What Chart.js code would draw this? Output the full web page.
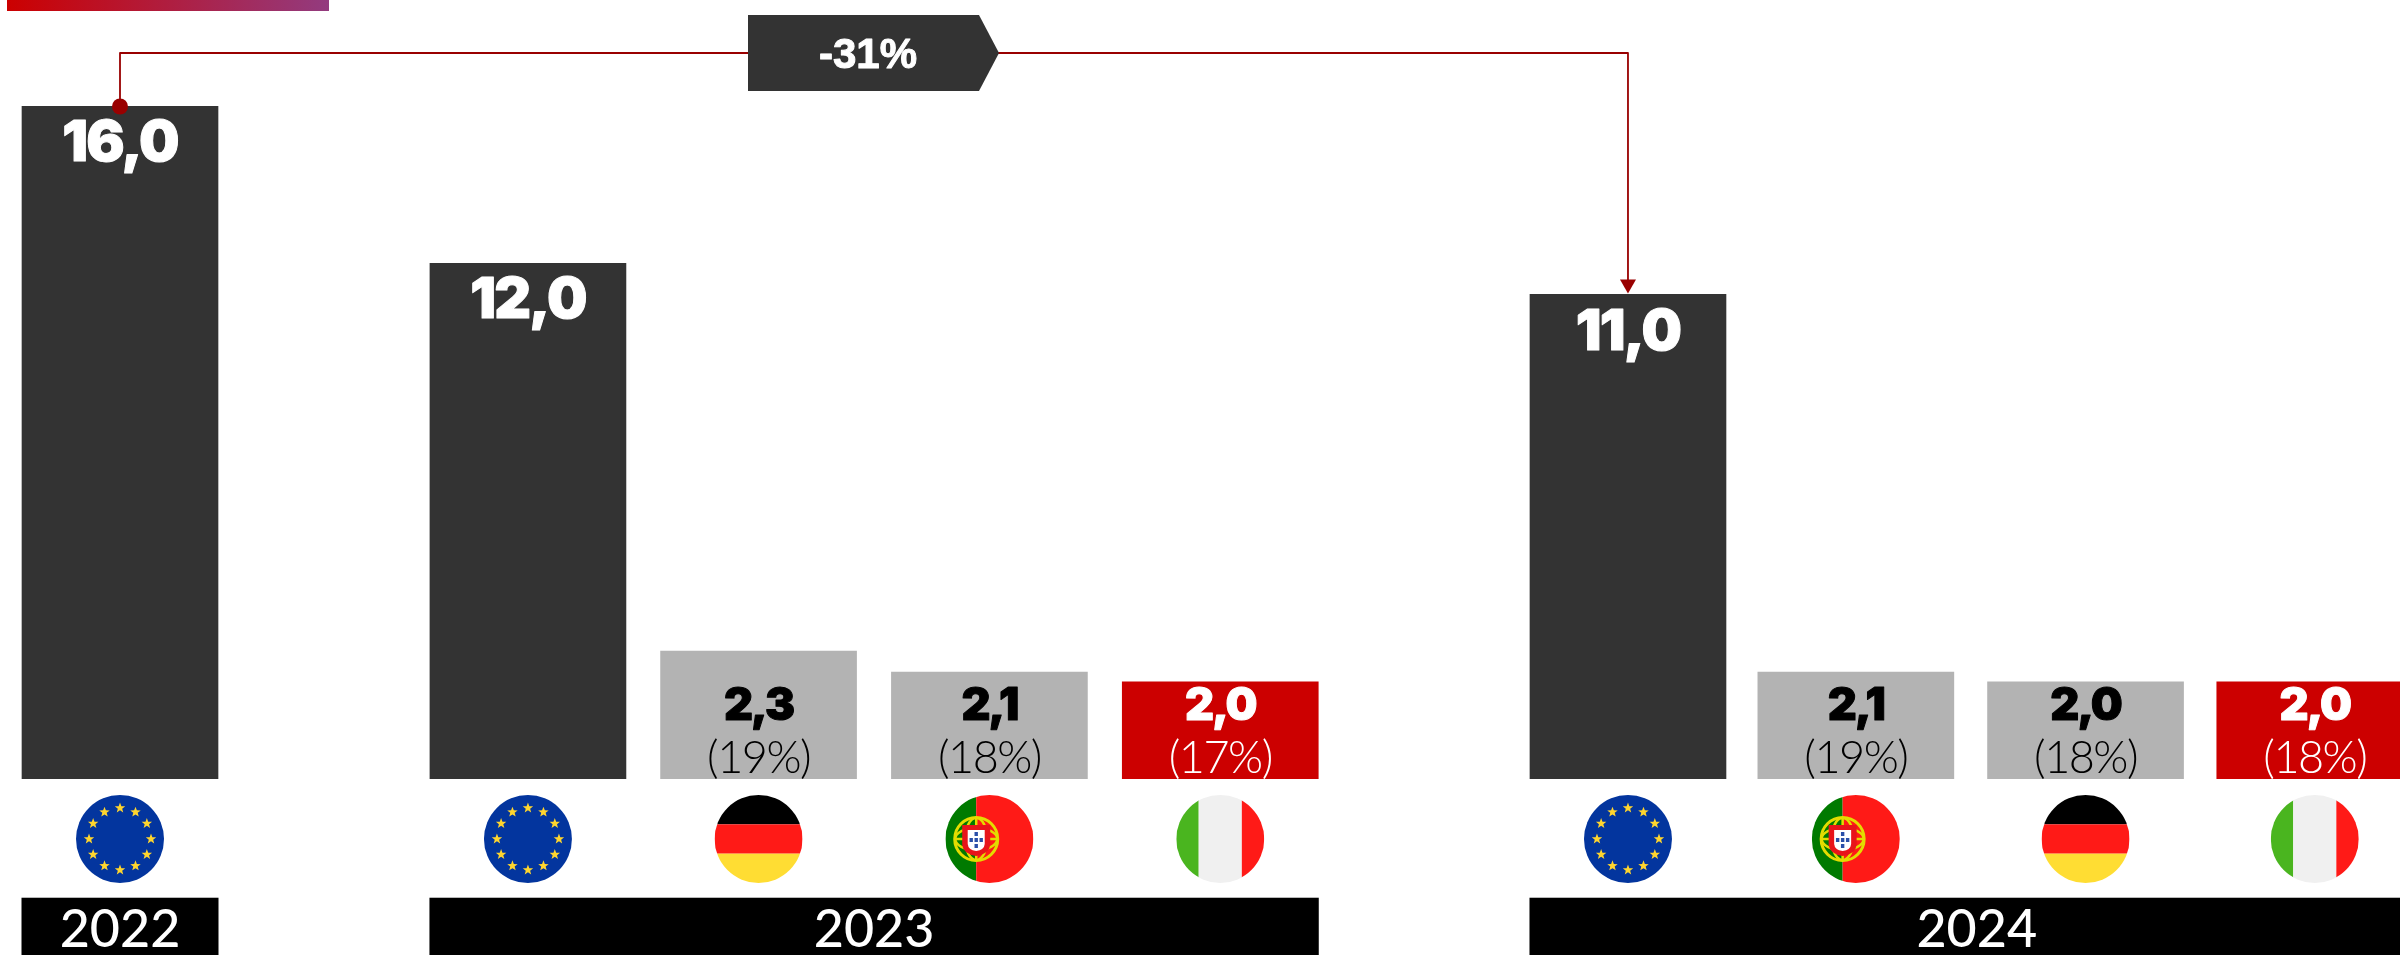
<!DOCTYPE html>
<html>
<head>
<meta charset="utf-8">
<style>html,body{margin:0;padding:0;background:#fff}#w{width:2400px;height:955px;position:relative;overflow:hidden}canvas{display:block}</style>
<script src="https://cdn.jsdelivr.net/npm/chart.js@4/dist/chart.umd.min.js"></script>
</head>
<body>
<div id="w"><canvas id="c" width="2400" height="955"></canvas></div>
<script>
// Data
const categories = ['EU 2022','EU 2023','DE 2023','PT 2023','IT 2023','EU 2024','PT 2024','DE 2024','IT 2024'];
const flags      = ['EU','EU','DE','PT','IT','EU','PT','DE','IT'];
const valueLabels = ['16,0','12,0','2,3','2,1','2,0','11,0','2,1','2,0','2,0'];
const shareLabels = ['','','(19%)','(18%)','(17%)','','(19%)','(18%)','(18%)'];
// The reference does not draw its bars strictly to scale: these are the drawn bar heights
// expressed on the 0-16 axis, while the printed figures above stay as the source states them.
const drawnHeights = [16, 12.26, 3.04, 2.54, 2.31, 11.52, 2.54, 2.31, 2.31];
const kinds = ['eu','eu','other','other','focus','eu','other','other','focus'];
const yearLabels = ['2022','2023','2024'];
const yearSpans = [[0,0],[1,4],[5,8]];
const changeLabel = '-31%';

// Layout
const slots = [0, 1.776, 2.78, 3.785, 4.79, 6.565, 7.557, 8.557, 9.555];
const UNIT = 229.7, X0 = 120, BAR = 196;
const colours = {eu:'#333333', other:'#B3B3B3', focus:'#CC0000'};
const inkValue = {eu:'#FFFFFF', other:'#000000', focus:'#FFFFFF'};
const RED = '#990000';

function clipCircle(ctx,x,y,r,fn){ctx.save();ctx.beginPath();ctx.arc(x,y,r,0,Math.PI*2);ctx.clip();fn();ctx.restore();}
function star(ctx,x,y,r){ctx.beginPath();for(let i=0;i<10;i++){const a=-Math.PI/2+i*Math.PI/5,q=i%2?r*0.42:r;ctx.lineTo(x+q*Math.cos(a),y+q*Math.sin(a));}ctx.closePath();ctx.fill();}
function drawFlag(ctx,code,x,y,r){
  const L=x-r,T=y-r,D=2*r;
  clipCircle(ctx,x,y,r,()=>{
    if(code==='EU'){
      ctx.fillStyle='#03359E';ctx.fillRect(L,T,D,D);
      ctx.fillStyle='#FFD52E';
      for(let i=0;i<12;i++){const a=i*Math.PI/6;star(ctx,x+31*Math.sin(a),y-31*Math.cos(a),5.5);}
    } else if(code==='DE'){
      ctx.fillStyle='#000';ctx.fillRect(L,T,D,D/3);
      ctx.fillStyle='#FF1A17';ctx.fillRect(L,T+D/3,D,D/3);
      ctx.fillStyle='#FFDD33';ctx.fillRect(L,T+2*D/3,D,D/3);
    } else if(code==='IT'){
      ctx.fillStyle='#4AB51F';ctx.fillRect(L,T,D*0.255,D);
      ctx.fillStyle='#F0F0F0';ctx.fillRect(L+D*0.255,T,D*0.49,D);
      ctx.fillStyle='#FF1A17';ctx.fillRect(L+D*0.745,T,D*0.255,D);
    } else if(code==='PT'){
      const s=L+D*0.35;
      ctx.fillStyle='#007A00';ctx.fillRect(L,T,D*0.35,D);
      ctx.fillStyle='#FF1A17';ctx.fillRect(s,T,D*0.65,D);
      ctx.strokeStyle='#E3DC00';ctx.lineWidth=3;
      ctx.beginPath();ctx.arc(s,y,21.5,0,Math.PI*2);ctx.stroke();
      ctx.lineWidth=2.5;ctx.beginPath();ctx.ellipse(s,y,21,11,0,0,Math.PI*2);ctx.stroke();
      ctx.beginPath();ctx.ellipse(s,y,11,21,0,0,Math.PI*2);ctx.stroke();
      ctx.beginPath();ctx.moveTo(s-21,y);ctx.lineTo(s+21,y);ctx.moveTo(s,y-21);ctx.lineTo(s,y+21);ctx.stroke();
      ctx.fillStyle='#E8141A';ctx.beginPath();ctx.moveTo(s-14,y-14);ctx.lineTo(s+14,y-14);ctx.lineTo(s+14,y+6);ctx.quadraticCurveTo(s+13,y+15,s,y+17);ctx.quadraticCurveTo(s-13,y+15,s-14,y+6);ctx.closePath();ctx.fill();
      ctx.fillStyle='#FFFFFF';ctx.beginPath();ctx.moveTo(s-8.5,y-9);ctx.lineTo(s+8.5,y-9);ctx.lineTo(s+8.5,y+5);ctx.quadraticCurveTo(s+8,y+11,s,y+12);ctx.quadraticCurveTo(s-8,y+11,s-8.5,y+5);ctx.closePath();ctx.fill();
      ctx.fillStyle='#2A4FA8';
      [[0,-5],[-5,1],[0,1],[5,1],[0,7]].forEach(p=>ctx.fillRect(s+p[0]-1.7,y+p[1]-2,3.4,4));
    }
  });
}

const overlay = {
  id:'overlay',
  afterDatasetsDraw(chart){
    const ctx=chart.ctx, meta=chart.getDatasetMeta(0), px=i=>meta.data[i].x;
    ctx.save();
    // Top gradient tab
    const g=ctx.createLinearGradient(7,0,329,0);g.addColorStop(0,'#CC0000');g.addColorStop(1,'#933B7F');
    ctx.fillStyle=g;ctx.fillRect(7,0,322,11);

    // Bar labels
    ctx.textAlign='center';ctx.textBaseline='middle';ctx.lineJoin='round';
    categories.forEach((c,i)=>{
      const bar=meta.data[i], kind=kinds[i];
      ctx.fillStyle=inkValue[kind];ctx.strokeStyle=inkValue[kind];ctx.lineWidth=1;
      if(kind==='eu'){
        ctx.font='900 57px Inter, Lato, sans-serif';
        ctx.letterSpacing='-1.8px';
        ctx.fillText(valueLabels[i],bar.x,bar.y+38);
        ctx.strokeText(valueLabels[i],bar.x,bar.y+38);
      }else{
        ctx.font='900 45px Inter, Lato, sans-serif';
        ctx.letterSpacing='-2px';
        ctx.fillText(valueLabels[i],bar.x,chart.chartArea.bottom-73);
        ctx.strokeText(valueLabels[i],bar.x,chart.chartArea.bottom-73);
        ctx.letterSpacing='-1.5px';
        ctx.font='300 45px Lato, sans-serif';
        ctx.fillText(shareLabels[i],bar.x,chart.chartArea.bottom-21);
      }
      ctx.letterSpacing='0px';
      drawFlag(ctx,flags[i],bar.x,839,44);
    });

    // Year bands
    yearLabels.forEach((y,i)=>{
      const a=yearSpans[i][0], b=yearSpans[i][1];
      const l=px(a)-BAR/2-0.5, r=Math.min(px(b)+BAR/2+0.5,2400);
      ctx.fillStyle='#B8B8B8';ctx.fillRect(l,897,r-l,1);
      ctx.fillStyle='#000';ctx.fillRect(l,898,r-l,57);
      ctx.fillStyle='#FFF';ctx.font='500 52px Lato, sans-serif';
      ctx.fillText(y,(l+r)/2+(i===2?12:0),930);
    });

    // Connector
    const x1=px(0), y1=meta.data[0].y, x2=px(5), y2=meta.data[5].y, ly=53;
    ctx.strokeStyle=RED;ctx.fillStyle=RED;
    ctx.lineWidth=1.8;
    ctx.beginPath();ctx.moveTo(x1,y1);ctx.lineTo(x1,ly);ctx.lineTo(x2,ly);ctx.lineTo(x2,y2-12);ctx.stroke();
    ctx.beginPath();ctx.arc(x1,y1+0.5,8,0,Math.PI*2);ctx.fill();
    ctx.beginPath();ctx.moveTo(x2-8,y2-15);ctx.lineTo(x2+8,y2-15);ctx.lineTo(x2,y2-1);ctx.closePath();ctx.fill();

    // Change badge
    ctx.fillStyle='#333333';
    ctx.beginPath();ctx.moveTo(748,15);ctx.lineTo(979,15);ctx.lineTo(999,53);ctx.lineTo(979,91);ctx.lineTo(748,91);ctx.closePath();ctx.fill();
    ctx.fillStyle='#FFF';ctx.strokeStyle='#FFF';ctx.lineWidth=1;ctx.font='700 42px "Liberation Sans", Arial, sans-serif';
    ctx.fillText(changeLabel,868,56);ctx.strokeText(changeLabel,868,56);
    ctx.restore();
  }
};

new Chart(document.getElementById('c'),{
  type:'bar',
  data:{datasets:[{
    label:'Bars',
    data:categories.map((c,i)=>({x:slots[i],y:drawnHeights[i]})),
    backgroundColor:kinds.map(k=>colours[k]),
    barThickness:BAR,
    borderWidth:0
  }]},
  options:{
    responsive:false,animation:false,
    layout:{padding:{top:106,bottom:176,left:0,right:0}},
    plugins:{legend:{display:false},tooltip:{enabled:false}},
    scales:{
      x:{type:'linear',offset:false,display:false,min:-X0/UNIT,max:(2400-X0)/UNIT,grid:{display:false}},
      y:{display:false,min:0,max:16,grid:{display:false}}
    }
  },
  plugins:[overlay]
});
</script>
</body>
</html>
